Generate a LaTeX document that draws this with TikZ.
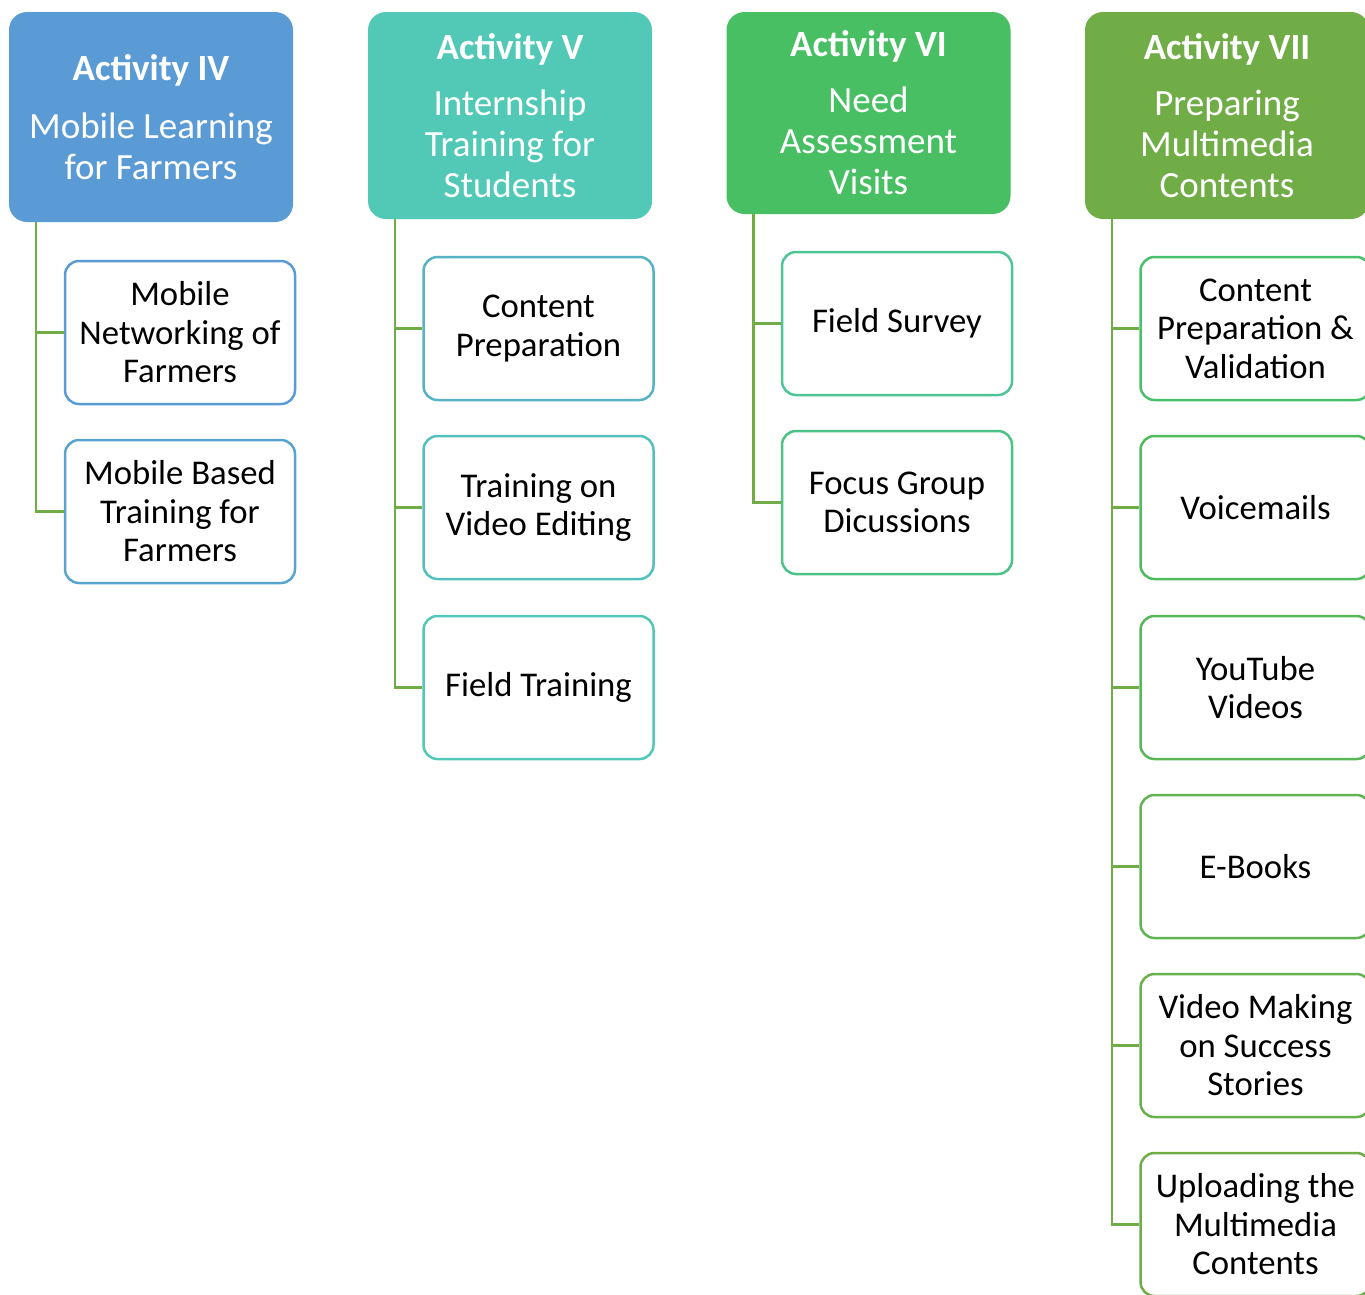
\documentclass[tikz,border=0pt]{standalone}
\usepackage{fontspec}
\setmainfont{Carlito}
\definecolor{headIV}{HTML}{5B9BD5}
\definecolor{headV}{HTML}{52C9B7}
\definecolor{headVI}{HTML}{48BF63}
\definecolor{headVII}{HTML}{70AD47}
\definecolor{linkgreen}{HTML}{70AD47}
\begin{document}
\begin{tikzpicture}[
    x=1pt, y=-1pt,
    head/.style={rectangle, rounded corners=18pt, minimum width=284pt, align=center, text=white, font=\fontsize{37}{41}\selectfont},
    task/.style={rectangle, draw, line width=2.5pt, rounded corners=14pt, fill=white, minimum width=230pt, minimum height=143pt, align=center, font=\fontsize{34.7}{38.5}\selectfont},
    link/.style={draw=linkgreen, line width=2.5pt}
]
    \useasboundingbox (0,0) rectangle (1365,1294);

    % Aktivitaeten
    \node[head, fill=headIV, minimum height=210pt] (act4) at (151,117) {{\bfseries Activity IV}\\[17pt]Mobile Learning\\for Farmers};
    \node[head, fill=headV, minimum height=207pt] (act5) at (510,115.5) {{\bfseries Activity V}\\[15pt]Internship\\Training for\\Students};
    \node[head, fill=headVI, minimum height=202pt] (act6) at (868.5,113) {{\bfseries Activity VI}\\[15pt]Need\\Assessment\\Visits};
    \node[head, fill=headVII, minimum height=207pt] (act7) at (1227,115.5) {{\bfseries Activity VII}\\[15pt]Preparing\\Multimedia\\Contents};

    % Aufgaben IV
    \node[task, draw=headIV] (mob1) at (180,332.5) {Mobile\\Networking of\\Farmers};
    \node[task, draw=headIV!80!headV] (mob2) at (180,511.5) {Mobile Based\\Training for\\Farmers};

    % Aufgaben V
    \node[task, draw=headV!50!headIV] (int1) at (538.5,328.5) {Content\\Preparation};
    \node[task, draw=headV!80!headIV] (int2) at (538.5,507.5) {Training on\\Video Editing};
    \node[task, draw=headV] (int3) at (538.5,687.5) {Field Training};

    % Aufgaben VI
    \node[task, draw=headVI!40!headV] (need1) at (897,323.5) {Field Survey};
    \node[task, draw=headVI!60!headV] (need2) at (897,502.5) {Focus Group\\Dicussions};

    % Aufgaben VII
    \node[task, draw=headVI!90!headV] (med1) at (1255.5,328.5) {Content\\Preparation \&\\Validation};
    \node[task, draw=headVI!80!headVII] (med2) at (1255.5,507.5) {Voicemails};
    \node[task, draw=headVI!60!headVII] (med3) at (1255.5,687.5) {YouTube\\Videos};
    \node[task, draw=headVI!40!headVII] (med4) at (1255.5,866.5) {E-Books};
    \node[task, draw=headVI!20!headVII] (med5) at (1255.5,1045.5) {Video Making\\on Success\\Stories};
    \node[task, draw=headVII] (med6) at (1255.5,1224.5) {Uploading the\\Multimedia\\Contents};

    % Verbindungen
    \draw[link] ([xshift=27pt]act4.south west) |- (mob1.west);
    \draw[link] ([xshift=27pt]act4.south west) |- (mob2.west);
    \draw[link] ([xshift=27pt]act5.south west) |- (int1.west);
    \draw[link] ([xshift=27pt]act5.south west) |- (int2.west);
    \draw[link] ([xshift=27pt]act5.south west) |- (int3.west);
    \draw[link] ([xshift=27pt]act6.south west) |- (need1.west);
    \draw[link] ([xshift=27pt]act6.south west) |- (need2.west);
    \draw[link] ([xshift=27pt]act7.south west) |- (med1.west);
    \draw[link] ([xshift=27pt]act7.south west) |- (med2.west);
    \draw[link] ([xshift=27pt]act7.south west) |- (med3.west);
    \draw[link] ([xshift=27pt]act7.south west) |- (med4.west);
    \draw[link] ([xshift=27pt]act7.south west) |- (med5.west);
    \draw[link] ([xshift=27pt]act7.south west) |- (med6.west);
\end{tikzpicture}
\end{document}
